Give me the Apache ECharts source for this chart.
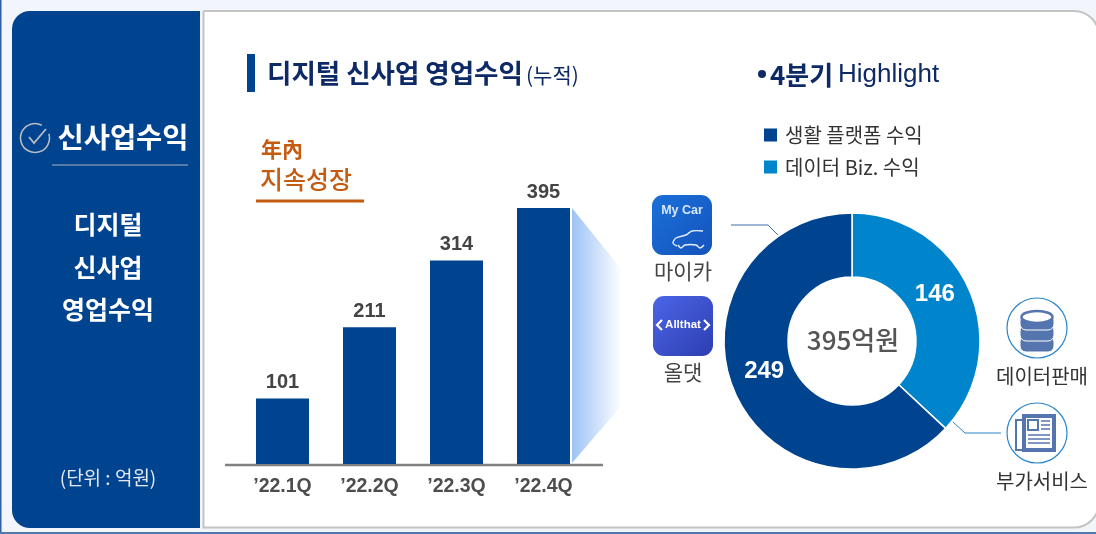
<!DOCTYPE html>
<html><head><meta charset="utf-8">
<style>html,body{margin:0;padding:0;background:#f2f5fb}#c{width:1096px;height:534px}</style>
<script src="https://cdn.jsdelivr.net/npm/echarts@6/dist/echarts.min.js"></script>
</head><body><div id="c"></div>
<script>
const quarters = ["’22.1Q","’22.2Q","’22.3Q","’22.4Q"];
const cumulative = [101,211,314,395];
const segmentNames = ["데이터 Biz. 수익","생활 플랫폼 수익"];
const segmentValues = [146,249];
const legendOrder = ["생활 플랫폼 수익","데이터 Biz. 수익"];
const centerLabel = "395억원";

const KR = '"Noto Sans CJK KR","Noto Sans",sans-serif';
const LAT = '"Liberation Sans",sans-serif';
const NAVY = '#00438f', SKY = '#0084cc', INK = '#0e2a66';
function T(x,y,text,size,color,weight,align,family){
  return {type:'text',x:x,y:y,silent:true,style:{text:text,fontFamily:family||KR,fontSize:size,fill:color,fontWeight:weight||'normal',align:align||'center',verticalAlign:'middle'}};
}
function line(points,color,w,smooth){
  return {type:'polyline',silent:true,shape:{points:points,smooth:smooth||0},style:{stroke:color,lineWidth:w||1,fill:null}};
}
const linear=(a,b,x2,y2)=>({type:'linear',x:0,y:0,x2:x2,y2:y2,colorStops:[{offset:0,color:a},{offset:1,color:b}]});
const ring=(x,y)=>({type:'circle',silent:true,shape:{cx:x,cy:y,r:30},style:{fill:'#fff',stroke:'#2a86cc',lineWidth:1.2}});
const ICON='#5475ae';
const dbIcon=[];
[344,333,322].forEach((y)=>{
  dbIcon.push({type:'rect',silent:true,shape:{x:1020,y:y-8,width:34,height:16,r:6},style:{fill:ICON,stroke:'#fff',lineWidth:1}});
});
dbIcon.push({type:'ellipse',silent:true,shape:{cx:1037,cy:317,rx:15.5,ry:6},style:{fill:'#fff',stroke:ICON,lineWidth:2.5}});
const newsIcon=[
 {type:'rect',silent:true,shape:{x:1016,y:420,width:8,height:30},style:{fill:'#fff',stroke:ICON,lineWidth:2}},
 {type:'rect',silent:true,shape:{x:1022,y:414,width:34,height:38},style:{fill:ICON}},
 {type:'rect',silent:true,shape:{x:1026,y:418,width:26,height:30},style:{fill:'#fff'}},
 {type:'rect',silent:true,shape:{x:1028,y:420,width:10,height:10},style:{fill:'#fff',stroke:ICON,lineWidth:2}},
 line([[1041,421],[1050,421]],ICON,1.5),line([[1041,425],[1050,425]],ICON,1.5),line([[1041,429],[1050,429]],ICON,1.5),
 line([[1028,435],[1050,435]],ICON,1.5),line([[1028,439],[1050,439]],ICON,1.5),line([[1028,443],[1050,443]],ICON,1.5)
];

const graphic=[
 {type:'rect',silent:true,shape:{x:0,y:0,width:1096,height:534},style:{fill:'#f2f5fb'}},
 {type:'rect',silent:true,shape:{x:0,y:0,width:1.5,height:534},style:{fill:'#2f5fa8'}},
 {type:'rect',silent:true,shape:{x:0,y:532,width:1096,height:2},style:{fill:'#4f78ad'}},
 {type:'rect',silent:true,shape:{x:203.5,y:11,width:895.5,height:516.5,r:[0,25,25,0]},style:{fill:'#fff',stroke:'#c4c4c4',lineWidth:2}},
 {type:'rect',silent:true,shape:{x:12,y:11,width:188,height:517,r:[18,0,0,18]},style:{fill:NAVY}},
 {type:'arc',silent:true,shape:{cx:35,cy:138,r:14.5,startAngle:-0.3,endAngle:5.2},style:{stroke:'#b9bcc2',lineWidth:1.6,fill:null}},
 line([[29,137],[34,143],[46,129]],'#b9bcc2',1.8),
 T(123,137,'신사업수익',28.5,'#fff','bold'),
 line([[52,165],[188,165]],'#aeb6c6',1),
 T(108,224,'디지털',25,'#fff','bold'),
 T(108,267,'신사업',25,'#fff','bold'),
 T(108,309,'영업수익',25,'#fff','bold'),
 T(108,478,'(단위 : 억원)',19,'#e3e8f1'),
 {type:'rect',silent:true,shape:{x:247,y:54,width:8,height:38},style:{fill:NAVY}},
 T(267,73,'디지털 신사업 영업수익',26.5,INK,'bold','left'),
 T(526,75,'(누적)',21,INK,'normal','left'),
 T(261,149,'年內',21,'#c55a11','bold','left'),
 T(260,179,'지속성장',25,'#c55a11','500','left'),
 line([[256,201],[364,201]],'#c55a11',3),
 {type:'polygon',silent:true,shape:{points:[[572,208],[622,270],[622,405],[572,463]]},style:{fill:linear('#9dc3f5','#ffffff',1,0)}},
 line([[225,465],[603,465]],'#808080',2.5),
 {type:'circle',silent:true,shape:{cx:762,cy:74,r:4},style:{fill:INK}},
 T(770,75,'4분기',26,INK,'bold','left'),
 T(838,75,'Highlight',26,INK,'normal','left',LAT),
 {type:'rect',silent:true,shape:{x:652,y:195,width:60,height:60,r:11},style:{fill:linear('#1a70d8','#1553bd',1,1)}},
 T(682,211,'My Car',12.5,'#d8e8fb','bold','center',LAT),
 line([[677,246],[673,243],[676,238],[686,235],[692,231],[703,231]],'#e6f0fd',1.4,0.3),
 line([[678,245],[681,248],[685,245],[696,245],[700,248],[704,245]],'#e6f0fd',1.4,0.3),
 T(683,271,'마이카',21,'#444'),
 {type:'rect',silent:true,shape:{x:653,y:296,width:60,height:60,r:11},style:{fill:linear('#4c66e8','#2c3db0',1,1)}},
 T(683,325,'Allthat',11.5,'#fff','bold','center',LAT),
 line([[662,320],[657,325],[662,330]],'#fff',2.2),line([[704,320],[709,325],[704,330]],'#fff',2.2),
 T(683,372,'올댓',21,'#444'),
 line([[731,225],[768,225],[778,235]],'#3a6ea8',1),
 line([[953,422],[965,433],[1001,433]],'#2a86cc',1),
 ring(1037,328),...dbIcon,
 T(1042,376,'데이터판매',20,'#333'),
 ring(1037,433),...newsIcon,
 T(1042,481,'부가서비스',20,'#333'),
 {type:'text',silent:true,z:10,x:853,y:340,style:{text:centerLabel,fontFamily:KR,fontSize:26,fontWeight:500,fill:'#555',align:'center',verticalAlign:'middle'}}
];

const chart=echarts.init(document.getElementById('c'),null,{renderer:'canvas'});
chart.setOption({
 animation:false,
 backgroundColor:'#f2f5fb',
 graphic:{elements:graphic},
 grid:{left:239,top:208,width:348,height:256},
 xAxis:{type:'category',data:quarters,axisLine:{show:false},axisTick:{show:false},
   axisLabel:{margin:13,color:'#4d4d4d',fontFamily:LAT,fontWeight:'bold',fontSize:19.5}},
 yAxis:{type:'value',min:0,max:395,show:false,splitLine:{show:false}},
 legend:{orient:'vertical',left:757,top:120,itemWidth:15,itemHeight:15,itemGap:12,data:legendOrder,icon:'rect',
   selectedMode:false,textStyle:{fontFamily:KR,fontSize:20,color:'#333',padding:[0,0,0,2]}},
 series:[
  {type:'bar',data:cumulative,barWidth:53,itemStyle:{color:NAVY},
   label:{show:true,position:'top',distance:6,color:'#444',fontFamily:LAT,fontWeight:'bold',fontSize:20}},
  {type:'pie',center:[852,341],radius:[64,128],startAngle:90,clockwise:true,silent:true,
   data:segmentNames.map((n,i)=>({name:n,value:segmentValues[i],itemStyle:{color:i===0?SKY:NAVY}})),
   itemStyle:{borderColor:'#fff',borderWidth:1.5},
   label:{show:true,position:'inside',formatter:'{c}',color:'#fff',fontFamily:LAT,fontWeight:'bold',fontSize:24},
   labelLine:{show:false},
   labelLayout:(p)=>p.dataIndex===0?{dx:-8,dy:-7}:{dx:3,dy:-9}}
 ]
});
</script></body></html>
